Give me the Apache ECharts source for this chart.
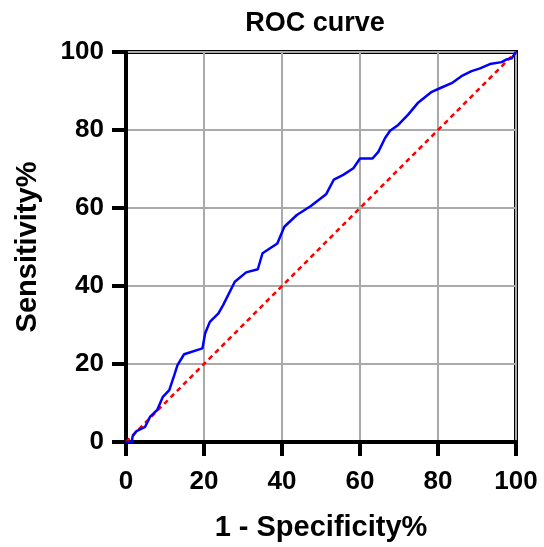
<!DOCTYPE html>
<html>
<head>
<meta charset="utf-8">
<script src="https://cdn.jsdelivr.net/npm/echarts@6/dist/echarts.min.js"></script>
<style>
  html, body { margin: 0; padding: 0; background: #fff; }
  #chart { width: 544px; height: 547px; }
</style>
</head>
<body>
<div id="chart"></div>
<script>
// ROC curve points: 1 - specificity (%) and sensitivity (%)
var fpr = [0, 1.5, 1.7, 2.7, 4.9, 6.2, 8.0, 9.4, 11.1, 12.4, 13.2, 14.9, 19.6, 20.3, 21.5, 23.7,
  24.9, 27.9, 30.8, 33.8, 35.0, 38.8, 40.6, 43.8, 47.4, 51.3, 53.3, 55.7, 58.3, 60.0, 63.2,
  64.7, 66.4, 67.7, 69.8, 72.4, 74.8, 78.4, 80.9, 83.5, 86.0, 88.6, 90.8, 93.3, 96.3, 97.6,
  98.9, 100];
var tpr = [0, 0, 1.5, 2.8, 3.9, 6.5, 8.2, 11.5, 13.3, 17.2, 19.7, 22.5, 24.0, 27.9, 30.8, 33.0,
  35.1, 41.1, 43.5, 44.3, 48.4, 50.9, 55.2, 58.2, 60.5, 63.5, 67.3, 68.5, 70.2, 72.7, 72.7,
  74.4, 77.9, 79.8, 81.3, 84.0, 86.9, 89.8, 90.9, 92.0, 93.8, 95.1, 95.8, 96.9, 97.4, 98.1,
  98.4, 100];
// chance line
var refX = [0, 100];
var refY = [0, 100];

var chart = echarts.init(document.getElementById('chart'));

var rocData = fpr.map(function (x, i) { return [x, tpr[i]]; });
var refData = refX.map(function (x, i) { return [x, refY[i]]; });

var font = 'Liberation Sans, Arial, sans-serif';

chart.setOption({
  animation: false,
  title: {
    text: 'ROC curve',
    left: 310,
    top: 5,
    textAlign: 'center',
    textStyle: { fontFamily: font, fontWeight: 'bold', fontSize: 27, color: '#000' }
  },
  grid: {
    left: 126, right: 28, top: 52, bottom: 105,
    show: true, borderColor: '#000', borderWidth: 4
  },
  xAxis: {
    type: 'value', min: 0, max: 100, interval: 20,
    name: '1 - Specificity%',
    nameLocation: 'middle', nameGap: 71,
    nameTextStyle: { fontFamily: font, fontWeight: 'bold', fontSize: 29, color: '#000' },
    axisLine: { lineStyle: { color: '#000', width: 4 } },
    axisTick: { show: true, length: 14, lineStyle: { color: '#000', width: 4 } },
    axisLabel: { fontFamily: font, fontWeight: 'bold', fontSize: 26, color: '#000', margin: 27 },
    splitLine: { show: true, lineStyle: { color: '#aaa', width: 2 } }
  },
  yAxis: {
    type: 'value', min: 0, max: 100, interval: 20,
    name: 'Sensitivity%',
    nameLocation: 'middle', nameGap: 84,
    nameTextStyle: { fontFamily: font, fontWeight: 'bold', fontSize: 29, color: '#000' },
    axisLine: { show: true, lineStyle: { color: '#000', width: 4 } },
    axisTick: { show: true, length: 14, lineStyle: { color: '#000', width: 4 } },
    axisLabel: { fontFamily: font, fontWeight: 'bold', fontSize: 26, color: '#000', margin: 22 },
    splitLine: { show: true, lineStyle: { color: '#aaa', width: 2 } }
  },
  series: [
    {
      type: 'line',
      data: refData,
      symbol: 'none',
      lineStyle: { color: '#ff0000', width: 2.5, type: [5, 4] },
      z: 3
    },
    {
      type: 'line',
      data: rocData,
      symbol: 'none',
      lineStyle: { color: '#0000ff', width: 2.5 },
      z: 4
    }
  ]
});
</script>
</body>
</html>
